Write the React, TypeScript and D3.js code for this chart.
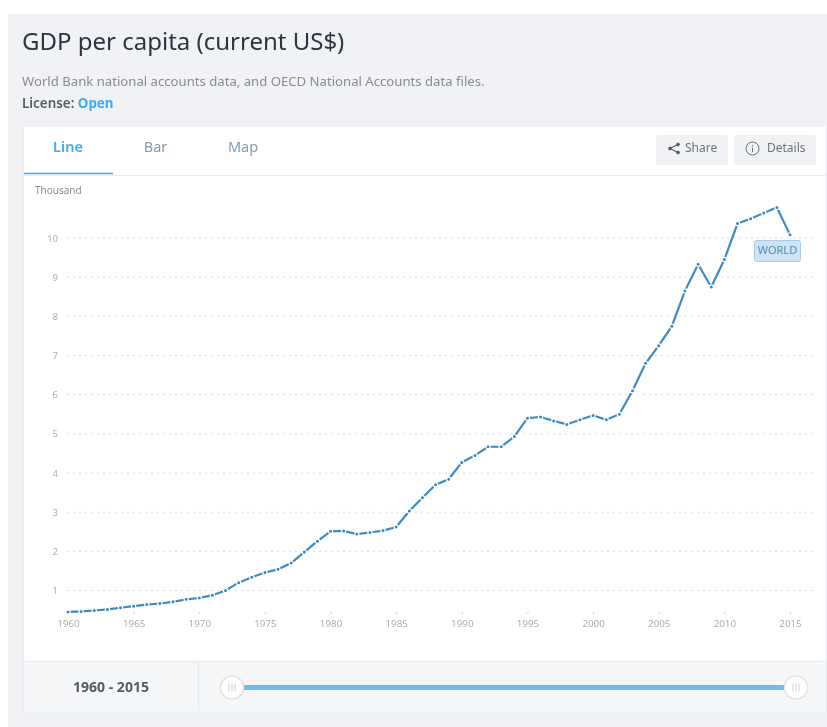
import * as React from 'react'
import * as d3 from 'd3'

const years = d3.range(1960, 2016)
// thousand US$
const gdp = [
  0.452, 0.466, 0.49, 0.518, 0.56, 0.6, 0.64, 0.668, 0.71, 0.775,
  0.808, 0.88, 1.0, 1.2, 1.34, 1.46, 1.54, 1.7, 1.98, 2.26,
  2.51, 2.52, 2.44, 2.48, 2.53, 2.62, 3.03, 3.37, 3.7, 3.84,
  4.27, 4.45, 4.67, 4.67, 4.93, 5.4, 5.43, 5.33, 5.24, 5.36,
  5.47, 5.36, 5.5, 6.1, 6.8, 7.25, 7.75, 8.65, 9.33, 8.75,
  9.45, 10.37, 10.49, 10.64, 10.78, 10.08
]
const yTicks = [1, 2, 3, 4, 5, 6, 7, 8, 9, 10]
const xTicks = [1960, 1965, 1970, 1975, 1980, 1985, 1990, 1995, 2000, 2005, 2010, 2015]
const tabs = ['Line', 'Bar', 'Map']

const FONT = '"Noto Sans", "Open Sans", sans-serif'

export default function App() {
  const ref = React.useRef<SVGSVGElement>(null)

  React.useEffect(() => {
    const svg = d3.select(ref.current)
    svg.selectAll('*').remove()

    const x = d3.scaleLinear().domain([1960, 2015]).range([68, 790])
    const y = d3.scaleLinear().domain([1, 10]).range([590.5, 238])

    // page background + card
    svg.append('rect').attr('x', 8).attr('y', 14).attr('width', 819).attr('height', 713).attr('fill', '#f0f2f6')
    svg.append('rect').attr('x', 23.5).attr('y', 126).attr('width', 803).attr('height', 586)
      .attr('fill', '#fff').attr('stroke', '#e8ebef')

    svg.append('text').attr('x', 22).attr('y', 50).attr('font-size', 24).attr('fill', '#2b3640').text('GDP per capita (current US$)')
    svg.append('text').attr('x', 22).attr('y', 86).attr('font-size', 13.15).attr('fill', '#8a8d90')
      .text('World Bank national accounts data, and OECD National Accounts data files.')
    const lic = svg.append('text').attr('x', 22).attr('y', 108).attr('font-size', 13.4).attr('font-weight', 600)
    lic.append('tspan').attr('fill', '#555c62').text('License: ')
    lic.append('tspan').attr('fill', '#3fa9f5').attr('font-weight', 700).text('Open')

    // tabs
    const tabX = d3.scalePoint<string>().domain(tabs).range([68, 243])
    svg.selectAll('.tab').data(tabs).enter().append('text')
      .attr('class', 'tab')
      .attr('x', d => tabX(d) as number)
      .attr('y', 152)
      .attr('text-anchor', 'middle')
      .attr('font-size', 14.5)
      .attr('font-weight', d => d === 'Line' ? 600 : 400)
      .attr('fill', d => d === 'Line' ? '#3fa9f5' : '#7f9cb3')
      .text(d => d)
    svg.append('line').attr('x1', 24).attr('x2', 826).attr('y1', 175.5).attr('y2', 175.5).attr('stroke', '#e8ebef')
    svg.append('line').attr('x1', 24).attr('x2', 113).attr('y1', 173.5).attr('y2', 173.5).attr('stroke', '#3fa9f5').attr('stroke-width', 1.5)

    // buttons
    svg.append('rect').attr('x', 656).attr('y', 135).attr('width', 72).attr('height', 30).attr('rx', 2).attr('fill', '#f0f2f5')
    svg.append('rect').attr('x', 734).attr('y', 135).attr('width', 82).attr('height', 30).attr('rx', 2).attr('fill', '#f0f2f5')
    svg.append('text').attr('x', 685).attr('y', 152).attr('font-size', 12).attr('fill', '#6d7378').text('Share')
    svg.append('text').attr('x', 767).attr('y', 152).attr('font-size', 12).attr('fill', '#6d7378').text('Details')
    const share = svg.append('g').attr('fill', '#555c62').attr('stroke', '#555c62')
    share.append('path').attr('d', 'M678 144.5L670 148.5L678 152.5').attr('fill', 'none').attr('stroke-width', 1.1)
    share.append('circle').attr('cx', 678).attr('cy', 144.5).attr('r', 1.4)
    share.append('circle').attr('cx', 670).attr('cy', 148.5).attr('r', 1.4)
    share.append('circle').attr('cx', 678).attr('cy', 152.5).attr('r', 1.4)
    const info = svg.append('g')
    info.append('circle').attr('cx', 752.5).attr('cy', 148.5).attr('r', 6.5).attr('fill', 'none').attr('stroke', '#6d7378')
    info.append('path').attr('d', 'M752.5 147.5V152M752.5 145V146.2').attr('stroke', '#6d7378')

    svg.append('text').attr('x', 35).attr('y', 194).attr('font-size', 10).attr('fill', '#8a8d90').text('Thousand')

    // y axis, grid lines as ticks
    const yAxis = svg.append('g')
      .attr('transform', 'translate(61,0)')
      .call(d3.axisLeft(y).tickValues(yTicks).tickSize(0).tickPadding(3).tickFormat(d3.format('d')))
    yAxis.select('.domain').remove()
    yAxis.selectAll('text').attr('font-size', 9.5).attr('font-family', FONT).attr('fill', '#adb0b3')
    svg.append('g').selectAll('line').data(yTicks).enter().append('line')
      .attr('x1', 67).attr('x2', 816)
      .attr('y1', d => y(d)).attr('y2', d => y(d))
      .attr('stroke', '#d8dbde').attr('stroke-dasharray', '2 4')

    // x axis
    const xAxis = svg.append('g')
      .attr('transform', 'translate(0,612)')
      .call(d3.axisBottom(x).tickValues(xTicks).tickSize(2).tickPadding(6).tickFormat(d3.format('d')))
    xAxis.select('.domain').remove()
    xAxis.selectAll('line').attr('stroke', '#c9ccd0')
    xAxis.selectAll('text').attr('font-size', 9.8).attr('font-family', FONT).attr('fill', '#adb0b3')

    // series
    const line = d3.line<number>().x((_, i) => x(years[i])).y(d => y(d))
    svg.append('path').datum(gdp).attr('d', line)
      .attr('fill', 'none').attr('stroke', '#3d8bc2').attr('stroke-width', 2.2)
    svg.append('g').selectAll('circle').data(gdp).enter().append('circle')
      .attr('cx', (_, i) => x(years[i]))
      .attr('cy', d => y(d))
      .attr('r', 2.1)
      .attr('fill', '#3585be')
      .attr('stroke', '#fff')
      .attr('stroke-width', 1.2)

    // WORLD label
    svg.append('rect').attr('x', 754.5).attr('y', 240.5).attr('width', 46).attr('height', 21).attr('rx', 2)
      .attr('fill', '#cfe3f2').attr('stroke', '#a9cde6')
    svg.append('text').attr('x', 777.5).attr('y', 254).attr('text-anchor', 'middle').attr('font-size', 11).attr('fill', '#4a90c2').text('WORLD')

    // range slider
    svg.append('rect').attr('x', 24).attr('y', 661.5).attr('width', 802).attr('height', 50).attr('fill', '#f6f7f9')
    svg.append('line').attr('x1', 24).attr('x2', 826).attr('y1', 661.5).attr('y2', 661.5).attr('stroke', '#e6e9ed')
    svg.append('line').attr('x1', 198.5).attr('x2', 198.5).attr('y1', 662).attr('y2', 711).attr('stroke', '#e6e9ed')
    svg.append('text').attr('x', 111).attr('y', 692).attr('text-anchor', 'middle').attr('font-size', 14).attr('font-weight', 700)
      .attr('fill', '#555c62').text(`${xTicks[0]} - ${xTicks[xTicks.length - 1]}`)
    svg.append('line').attr('x1', 232).attr('x2', 796).attr('y1', 687.5).attr('y2', 687.5).attr('stroke', '#6dbcee').attr('stroke-width', 5)
    const handles = [232, 796]
    const h = svg.append('g').selectAll('g').data(handles).enter().append('g')
      .attr('transform', d => `translate(${d},687.5)`)
    h.append('circle').attr('r', 11.5).attr('fill', '#fff').attr('stroke', '#dfe4e9').attr('stroke-width', 1.5)
    h.append('path').attr('d', 'M-3 -4V4M0 -4V4M3 -4V4').attr('stroke', '#d5d9dd').attr('stroke-width', 1.2)

    svg.selectAll('text').attr('font-family', FONT)
  }, [])

  return (
    <svg ref={ref} width={827} height={727} style={{ position: 'fixed', left: 0, top: 0, display: 'block', background: '#fff', filter: 'blur(0.4px)' }} />
  )
}
